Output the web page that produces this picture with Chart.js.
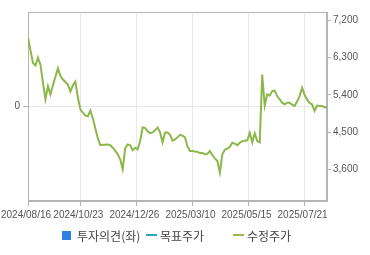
<!DOCTYPE html>
<html>
<head>
<meta charset="utf-8">
<script src="https://cdn.jsdelivr.net/npm/chart.js@4.4.1/dist/chart.umd.min.js"></script>
<style>
  html, body { margin: 0; padding: 0; background: #fff; }
  #wrap { position: relative; width: 370px; height: 255px; }
  #legend { position: absolute; left: 0; top: 227px; width: 370px; height: 17px;
            font-family: "Noto Sans CJK KR", sans-serif; font-size: 12px; color: #444; }
  .item { position: absolute; top: 0; line-height: 17px; white-space: nowrap; }
  .mark { position: absolute; }
</style>
</head>
<body>
<div id="wrap">
  <canvas id="chart" width="370" height="255"></canvas>
  <div id="legend"></div>
</div>
<script>
// 눈금 (거래일 순번 기준)
const tickDays = [0, 42, 87, 132, 177, 222];
const tickLabels = ['2024/08/16', '2024/10/23', '2024/12/26', '2025/03/10', '2025/05/15', '2025/07/21'];
const priceTicks = [3600, 4500, 5400, 6300, 7200];
const opinionTicks = [0];

// 수정주가 - 2거래일 간격으로 읽은 값
const dayStep = 2;
const adjPrice = [
  6780, 6470, 6170, 6110, 6300, 6130, 5690, 5290, 5610, 5410,
  5630, 5840, 6040, 5860, 5770, 5710, 5650, 5480, 5630, 5720,
  5340, 5050, 4970, 4900, 4880, 5020, 4830, 4590, 4350, 4180,
  4190, 4190, 4200, 4180, 4120, 4050, 3960, 3840, 3600, 4110,
  4200, 4180, 4060, 4120, 4080, 4280, 4610, 4600, 4520, 4470,
  4490, 4540, 4610, 4490, 4250, 4490, 4490, 4430, 4290, 4320,
  4370, 4430, 4410, 4370, 4150, 4040, 4040, 4030, 4020, 3990,
  3990, 3960, 3970, 4040, 3940, 3860, 3800, 3520, 3960, 4070,
  4100, 4140, 4240, 4220, 4180, 4240, 4280, 4290, 4300, 4480,
  4250, 4470, 4280, 4250, 5890, 5140, 5410, 5380, 5490, 5500,
  5370, 5290, 5210, 5170, 5210, 5210, 5160, 5130, 5240, 5370,
  5570, 5400, 5290, 5200, 5170, 5010, 5140, 5130, 5130, 5100,
  5100
];

const legendItems = [
  { label: '투자의견(좌)', type: 'box', color: '#2f7fe0' },
  { label: '목표주가', type: 'line', color: '#29a9b8' },
  { label: '수정주가', type: 'line', color: '#97bb55' }
];

const axisColor = '#b4b4b4';
const gridColor = '#e8e8e8';
const tickFont = { family: '"Liberation Sans", Arial, sans-serif', size: 10 };

// 차트 영역 테두리
const frame = {
  id: 'frame',
  beforeDatasetsDraw(chart) {
    const a = chart.chartArea;
    const ctx = chart.ctx;
    ctx.save();
    ctx.strokeStyle = axisColor;
    ctx.lineWidth = 1;
    ctx.strokeRect(Math.round(a.left) + 0.5, Math.round(a.top) + 0.5,
      Math.round(a.right - a.left) - 1, Math.round(a.bottom - a.top) - 1);
    ctx.restore();
  }
};

new Chart(document.getElementById('chart'), {
  type: 'line',
  data: {
    datasets: [{
      label: '수정주가',
      data: adjPrice.map((v, i) => ({ x: i * dayStep, y: v })),
      borderColor: '#8db64b',
      borderWidth: 2,
      pointRadius: 0,
      tension: 0,
      yAxisID: 'y'
    }]
  },
  options: {
    responsive: false,
    animation: false,
    events: [],
    layout: { padding: { top: 12, left: 0, right: 0, bottom: 0 } },
    plugins: { legend: { display: false }, tooltip: { enabled: false } },
    scales: {
      x: {
        type: 'linear',
        min: 0,
        max: 240,
        afterBuildTicks: s => { s.ticks = tickDays.map(v => ({ value: v })); },
        afterFit: s => { s.height = 54; },
        border: { color: axisColor },
        grid: { color: gridColor, tickColor: axisColor, tickLength: 5 },
        ticks: {
          autoSkip: false, maxRotation: 0, padding: 3, labelOffset: -2,
          color: '#555', font: tickFont,
          callback: v => tickLabels[tickDays.indexOf(v)]
        }
      },
      y1: {
        position: 'left',
        min: -1,
        max: 1,
        afterBuildTicks: s => { s.ticks = opinionTicks.map(v => ({ value: v })); },
        afterFit: s => { s.width = 27; },
        border: { color: axisColor },
        grid: { color: gridColor, tickColor: axisColor, tickLength: 5 },
        ticks: { color: '#555', font: tickFont, padding: 3 }
      },
      y: {
        position: 'right',
        min: 2830,
        max: 7405,
        afterBuildTicks: s => { s.ticks = priceTicks.map(v => ({ value: v })); },
        afterFit: s => { s.width = 43; },
        border: { color: axisColor },
        grid: { drawOnChartArea: false, tickColor: axisColor, tickLength: 4 },
        ticks: {
          color: '#555', font: tickFont, padding: 2,
          callback: v => v.toLocaleString('en-US')
        }
      }
    }
  },
  plugins: [frame]
});

// 범례
const legendPos = [62, 146, 233];
const legendEl = document.getElementById('legend');
legendItems.forEach((it, i) => {
  const div = document.createElement('div');
  div.className = 'item';
  div.style.left = legendPos[i] + 'px';
  const mark = document.createElement('span');
  mark.className = 'mark';
  if (it.type === 'box') {
    mark.style.cssText = `left:0;top:4px;width:9px;height:9px;background:${it.color}`;
    div.style.paddingLeft = '15px';
  } else {
    mark.style.cssText = `left:0;top:7px;width:11px;height:2px;background:${it.color}`;
    div.style.paddingLeft = '14px';
  }
  div.appendChild(mark);
  div.appendChild(document.createTextNode(it.label));
  legendEl.appendChild(div);
});
</script>
</body>
</html>
